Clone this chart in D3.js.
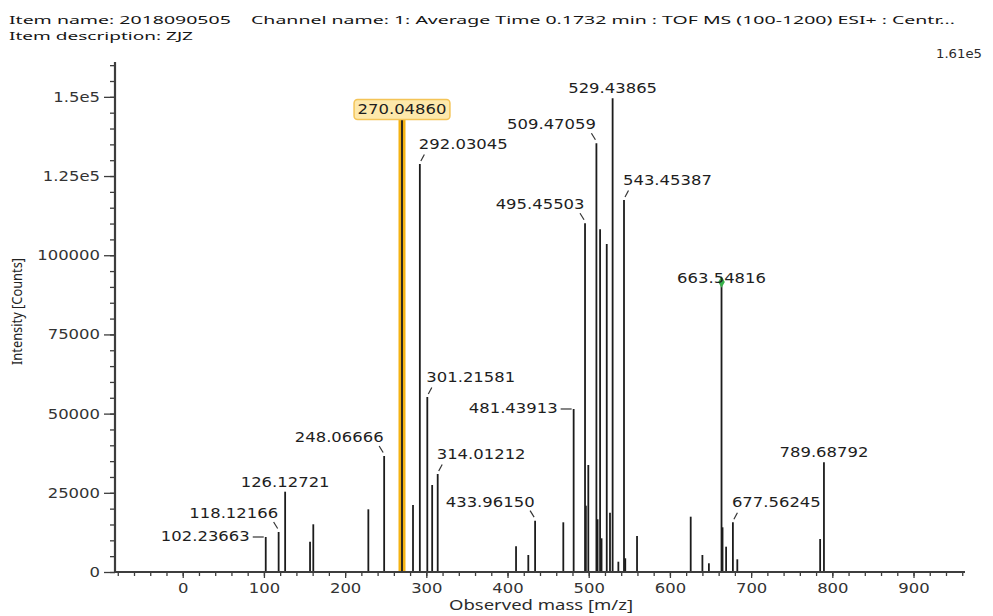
<!DOCTYPE html>
<html>
<head>
<meta charset="utf-8">
<script src="https://cdn.jsdelivr.net/npm/d3@7"></script>
<style>
  body { margin: 0; background: #fff; }
  svg { display: block; }
</style>
</head>
<body>
<svg id="chart" width="993" height="616"></svg>
<script>
// Centroided TOF MS spectrum, ESI+ (m/z 100-1200), averaged at 0.1732 min
const massValues = [
  102.23663, 118.12166, 126.12721, 156.8, 160.8, 228.6, 248.06666, 270.04860,
  283.6, 292.03045, 301.21581, 307.2, 314.01212, 410.5, 425.6, 433.96150,
  468.7, 481.43913, 495.45503, 496.5, 499.5, 509.47059, 510.9, 514.0,
  515.8, 522.2, 526.2, 529.43865, 536.5, 543.45387, 545.0, 559.5,
  625.6, 640.0, 648.0, 663.54816, 664.8, 669.2, 677.56245, 683.0,
  785.0, 789.68792
];
const intensityValues = [
  11050, 12630, 25350, 9570, 15060, 19790, 36620, 142690,
  21150, 128800, 55250, 27460, 30940, 8110, 5370, 16200,
  15690, 51460, 110080, 20930, 33780, 135340, 16640, 108190,
  10640, 103550, 18720, 149540, 3250, 117440, 4330, 11370,
  17460, 5370, 2750, 91550, 14110, 7990, 15690, 4010,
  10420, 34630
];

// Annotated peaks and where each annotation sits relative to its peak
const labelledPeaks = [
  102.23663, 118.12166, 126.12721, 248.06666, 270.04860, 292.03045,
  301.21581, 314.01212, 433.96150, 481.43913, 495.45503, 509.47059,
  529.43865, 543.45387, 663.54816, 677.56245, 789.68792
];
const labelPlacement = [
  "left", "nw", "top", "nw", "box", "ne",
  "ne", "ne", "nw", "left", "nw", "nw",
  "top", "ne", "on", "ne", "top"
];
const highlightedPeak = 270.04860;
const markedPeak = 663.54816;

const xTickValues = [0, 100, 200, 300, 400, 500, 600, 700, 800, 900];
const xTickLabels = ["0", "100", "200", "300", "400", "500", "600", "700", "800", "900"];
const yTickValues = [0, 25000, 50000, 75000, 100000, 125000, 150000];
const yTickLabels = ["0", "25000", "50000", "75000", "100000", "1.25e5", "1.5e5"];
const massRange = [-83.4, 963.4];
const intensityMax = 161000;
const intensityMaxLabel = "1.61e5";

const titleLines = [
  "Item name: 2018090505    Channel name: 1: Average Time 0.1732 min : TOF MS (100-1200) ESI+ : Centr...",
  "Item description: ZJZ"
];
const xAxisTitle = "Observed mass [m/z]";
const yAxisTitle = "Intensity [Counts]";

// ---------------------------------------------------------------------------
const svg = d3.select("#chart");
const numFont = "'DejaVu Sans', Verdana, sans-serif";
const uiFont = "'Noto Sans', 'Open Sans', sans-serif";
const stretch = 1.2;
const inkColor = "#1c1c1c";
const axisColor = "#3d3d3d";

const plot = { left: 115, right: 965, top: 62, bottom: 572 };

const x = d3.scaleLinear().domain(massRange).range([plot.left, plot.right]);
const y = d3.scaleLinear().domain([0, intensityMax]).range([plot.bottom, plot.top]);

const peaks = massValues.map((m, i) => ({ mz: m, value: intensityValues[i] }));

// Header
svg.selectAll("text.title")
  .data(titleLines)
  .join("text")
  .attr("class", "title")
  .attr("x", 9)
  .attr("y", (d, i) => i === 0 ? 23.5 : 39.5)
  .attr("textLength", (d, i) => i === 0 ? 946 : 184)
  .attr("lengthAdjust", "spacingAndGlyphs")
  .style("white-space", "pre")
  .attr("font-family", uiFont)
  .attr("font-size", 11.6)
  .attr("fill", "#151515")
  .text(d => d);

// Full-scale intensity readout
svg.append("text")
  .attr("x", 982).attr("y", 57.5)
  .attr("text-anchor", "end")
  .attr("textLength", 46)
  .attr("lengthAdjust", "spacingAndGlyphs")
  .attr("font-family", numFont)
  .attr("font-size", 13)
  .attr("fill", "#2a2a2a")
  .text(intensityMaxLabel);

// Stretch axis tick text horizontally around its anchor
function stretchTicks(sel) {
  sel.selectAll(".tick text").each(function () {
    const t = d3.select(this);
    const tx = +t.attr("x") || 0;
    t.attr("x", 0).attr("transform", `translate(${tx},0) scale(${stretch},1)`);
  });
}

// Y axis: minor then major ticks
const yMinor = svg.append("g")
  .attr("transform", `translate(${plot.left},0)`)
  .call(d3.axisLeft(y).tickValues(d3.range(0, intensityMax, 5000)).tickSize(5).tickSizeOuter(0).tickFormat(""));
yMinor.select(".domain").remove();
yMinor.selectAll(".tick line").attr("stroke", axisColor).attr("stroke-width", 1.3);

const yAxis = svg.append("g")
  .attr("transform", `translate(${plot.left},0)`)
  .call(d3.axisLeft(y).tickValues(yTickValues).tickFormat((d, i) => yTickLabels[i]).tickSize(11).tickPadding(4).tickSizeOuter(0));
yAxis.select(".domain").remove();
yAxis.selectAll(".tick line").attr("stroke", axisColor).attr("stroke-width", 1.3);
yAxis.selectAll(".tick text")
  .attr("font-family", numFont).attr("font-size", 13.7).attr("fill", "#333");
stretchTicks(yAxis);

// X axis: minor then major ticks
const xMinor = svg.append("g")
  .attr("transform", `translate(0,${plot.bottom})`)
  .call(d3.axisBottom(x).tickValues(d3.range(-80, massRange[1], 20)).tickSize(4).tickSizeOuter(0).tickFormat(""));
xMinor.select(".domain").remove();
xMinor.selectAll(".tick line").attr("stroke", axisColor).attr("stroke-width", 1.3);

const xAxis = svg.append("g")
  .attr("transform", `translate(0,${plot.bottom})`)
  .call(d3.axisBottom(x).tickValues(xTickValues).tickFormat((d, i) => xTickLabels[i]).tickSize(6).tickSizeOuter(0));
xAxis.select(".domain").remove();
xAxis.selectAll(".tick line").attr("stroke", axisColor).attr("stroke-width", 1.3);
xAxis.selectAll(".tick text")
  .attr("y", 21).attr("dy", 0)
  .attr("font-family", numFont).attr("font-size", 13.7).attr("fill", "#333");
stretchTicks(xAxis);

// Axis titles
svg.append("text")
  .attr("x", (plot.left + plot.right) / 2 + 1)
  .attr("y", 610)
  .attr("text-anchor", "middle")
  .attr("textLength", 184)
  .attr("lengthAdjust", "spacingAndGlyphs")
  .attr("font-family", uiFont).attr("font-size", 13.5).attr("fill", "#2b2b2b")
  .text(xAxisTitle);

svg.append("text")
  .attr("transform", "translate(22,311.5) rotate(-90)")
  .attr("text-anchor", "middle")
  .attr("textLength", 107)
  .attr("lengthAdjust", "spacingAndGlyphs")
  .attr("font-family", uiFont).attr("font-size", 13.5).attr("fill", "#222")
  .text(yAxisTitle);

// Highlight band behind the selected peak
const hi = peaks.find(p => p.mz === highlightedPeak);
svg.append("line")
  .attr("x1", x(hi.mz)).attr("x2", x(hi.mz))
  .attr("y1", y(0)).attr("y2", y(hi.value))
  .attr("stroke", "#f5b313").attr("stroke-width", 7);

// Spectrum sticks
svg.append("g")
  .selectAll("line")
  .data(peaks)
  .join("line")
  .attr("x1", d => x(d.mz)).attr("x2", d => x(d.mz))
  .attr("y1", y(0)).attr("y2", d => y(d.value))
  .attr("stroke", inkColor)
  .attr("stroke-width", 1.8);

// Axis lines drawn over the stick bases
svg.append("line")
  .attr("x1", plot.left).attr("x2", plot.left)
  .attr("y1", plot.top).attr("y2", plot.bottom + 1)
  .attr("stroke", axisColor).attr("stroke-width", 2.2);
svg.append("line")
  .attr("x1", plot.left - 1).attr("x2", plot.right)
  .attr("y1", plot.bottom).attr("y2", plot.bottom)
  .attr("stroke", axisColor).attr("stroke-width", 2.2);

// Marker on the flagged peak
const mk = peaks.find(p => p.mz === markedPeak);
svg.append("path")
  .attr("d", d3.symbol(d3.symbolDiamond, 38)())
  .attr("transform", `translate(${x(mk.mz)},${y(mk.value)})`)
  .attr("fill", "#38b04a");

// Peak annotations
const labelLayer = svg.append("g");
labelledPeaks.forEach((m, i) => {
  const p = peaks.find(q => q.mz === m);
  const bx = x(p.mz), by = y(p.value);
  const kind = labelPlacement[i];
  let tx, ty, anchor, leader = null;
  if (kind === "left") {
    tx = bx - 16; ty = by + 4.5; anchor = "end";
    leader = [bx - 13, by, bx - 2, by];
  } else if (kind === "nw") {
    tx = bx - 0.5; ty = by - 14; anchor = "end";
    leader = [bx - 5, by - 10, bx - 1, by - 3.5];
  } else if (kind === "ne") {
    tx = bx - 1; ty = by - 15; anchor = "start";
    leader = [bx + 1, by - 3, bx + 4.5, by - 9.5];
  } else if (kind === "on") {
    tx = bx; ty = by + 1; anchor = "middle";
  } else if (kind === "box") {
    tx = bx; ty = by - 6.5; anchor = "middle";
  } else {
    tx = bx; ty = by - 5; anchor = "middle";
  }

  if (kind === "box") {
    const probe = labelLayer.append("text")
      .attr("font-family", numFont).attr("font-size", 13.7)
      .text(p.mz.toFixed(5));
    const w = probe.node().getComputedTextLength() * stretch;
    probe.remove();
    labelLayer.append("rect")
      .attr("x", bx - w / 2 - 3.5).attr("y", by - 20.5)
      .attr("width", w + 7).attr("height", 20)
      .attr("rx", 3.5)
      .attr("fill", "#fde8ab")
      .attr("stroke", "#f4c457").attr("stroke-width", 1.5);
  }

  if (leader) {
    labelLayer.append("line")
      .attr("x1", leader[0]).attr("y1", leader[1])
      .attr("x2", leader[2]).attr("y2", leader[3])
      .attr("stroke", "#333").attr("stroke-width", 1.2);
  }

  labelLayer.append("text")
    .attr("transform", `translate(${tx},${ty}) scale(${stretch},1)`)
    .attr("text-anchor", anchor)
    .attr("font-family", numFont)
    .attr("font-size", 13.7)
    .attr("fill", "#1e1e1e")
    .text(p.mz.toFixed(5));
});
</script>
</body>
</html>
